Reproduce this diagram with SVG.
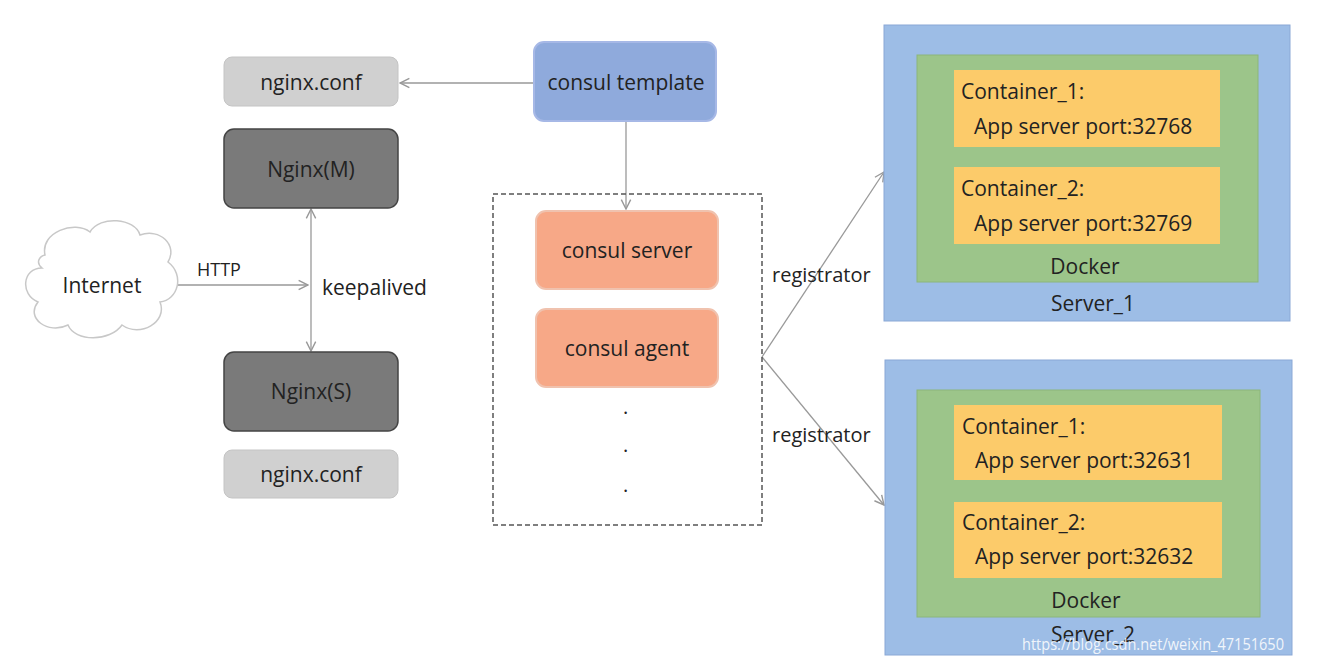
<svg xmlns="http://www.w3.org/2000/svg" width="1319" height="663" viewBox="0 0 1319 663">
<style>
text{font-family:"Open Sans","DejaVu Sans",sans-serif;fill:#222}
.t{font-size:21px;text-anchor:middle}
.conf{fill:#d0d0d0;stroke:#c4c4c4}
.ng{fill:#7a7a7a;stroke:#444;stroke-width:1.5}
.or{fill:#f7a887;stroke:#f0c2ae;stroke-width:2}
.srv{fill:#9dbde6;stroke:#8aa8d6}
.dk{fill:#9cc58a;stroke:#8cb67a}
.ct{fill:#fccb6a}
.ln{stroke:#999;stroke-width:1.3;fill:none}
.c{font-size:21px}
</style>
<defs>
<marker id="a" viewBox="0 0 10 10" refX="9" refY="5" markerWidth="9" markerHeight="9" orient="auto-start-reverse"><path d="M1,1 L9,5 L1,9" fill="none" stroke="#999" stroke-width="1.2"/></marker>
</defs>
<rect width="1319" height="663" fill="#fff"/>
<g id="connectors">
<line class="ln" x1="534" y1="83" x2="400" y2="83" marker-end="url(#a)"/>
<line class="ln" x1="626" y1="121" x2="626" y2="209" marker-end="url(#a)"/>
<line class="ln" x1="177" y1="285" x2="308" y2="285" marker-end="url(#a)"/>
<line class="ln" x1="311" y1="209" x2="311" y2="351" marker-start="url(#a)" marker-end="url(#a)"/>
<line class="ln" x1="762" y1="357" x2="884" y2="172" marker-end="url(#a)"/>
<line class="ln" x1="762" y1="357" x2="884" y2="505" marker-end="url(#a)"/>
<text x="197" y="276" font-size="18">HTTP</text>
<text x="322" y="295" font-size="21">keepalived</text>
<text x="772" y="282" font-size="20">registrator</text>
<text x="772" y="442" font-size="20">registrator</text>
</g>
<g id="nginx-conf-top"><rect class="conf" x="224" y="57" width="174" height="49" rx="8"/><text class="t" x="311" y="90">nginx.conf</text></g>
<g id="nginx-m"><rect class="ng" x="224" y="129" width="174" height="79" rx="10"/><text class="t" x="311" y="177">Nginx(M)</text></g>
<g id="nginx-s"><rect class="ng" x="224" y="352" width="174" height="79" rx="10"/><text class="t" x="311" y="399">Nginx(S)</text></g>
<g id="nginx-conf-bottom"><rect class="conf" x="224" y="450" width="174" height="48" rx="8"/><text class="t" x="311" y="482">nginx.conf</text></g>
<g id="internet">
<path d="M45,255 C40,232 75,220 90,232 C100,215 135,218 140,235 C160,228 178,245 168,262 C185,275 178,300 160,302 C168,322 140,338 122,325 C110,342 75,342 68,325 C48,335 25,318 38,302 C20,295 22,268 42,268 C35,262 40,256 45,255 Z" fill="#fff" stroke="#c8c8c8" stroke-width="1.5"/>
<text class="t" x="102" y="293">Internet</text>
</g>
<g id="consul-template"><rect x="534" y="42" width="182" height="79" rx="10" fill="#8faadc" stroke="#a6b8e6" stroke-width="2"/><text class="t" x="626" y="90">consul template</text></g>
<g id="consul-cluster">
<rect x="493" y="194" width="269" height="331" fill="none" stroke="#555" stroke-width="1.5" stroke-dasharray="5,3"/>
<text x="623" y="414" font-size="20">.</text><text x="623" y="452" font-size="20">.</text><text x="623" y="492" font-size="20">.</text>
</g>
<g id="consul-server"><rect class="or" x="536" y="211" width="182" height="78" rx="10"/><text class="t" x="627" y="258">consul server</text></g>
<g id="consul-agent"><rect class="or" x="536" y="309" width="182" height="78" rx="10"/><text class="t" x="627" y="356">consul agent</text></g>
<g id="server-1">
<rect class="srv" x="884" y="25" width="406" height="296"/>
<rect class="dk" x="917" y="55" width="341" height="227"/>
<rect class="ct" x="954" y="70" width="266" height="77"/>
<rect class="ct" x="954" y="167" width="266" height="77"/>
<text class="c" x="961" y="99">Container_1:</text><text class="c" x="974" y="134">App server port:32768</text>
<text class="c" x="961" y="196">Container_2:</text><text class="c" x="974" y="231">App server port:32769</text>
<text class="t" x="1085" y="274" fill="#1f3a14">Docker</text>
<text class="t" x="1093" y="311" fill="#1f2f55">Server_1</text>
</g>
<g id="server-2">
<rect class="srv" x="885" y="360" width="407" height="295"/>
<rect class="dk" x="917" y="390" width="343" height="227"/>
<rect class="ct" x="954" y="405" width="268" height="75"/>
<rect class="ct" x="954" y="502" width="268" height="76"/>
<text class="c" x="962" y="434">Container_1:</text><text class="c" x="975" y="468">App server port:32631</text>
<text class="c" x="962" y="530">Container_2:</text><text class="c" x="975" y="564">App server port:32632</text>
<text class="t" x="1086" y="608" fill="#1f3a14">Docker</text>
<text class="t" x="1093" y="642" fill="#1f2f55">Server_2</text>
</g>
<text x="1022" y="650" font-family="Liberation Sans,sans-serif" font-size="16" textLength="262" lengthAdjust="spacingAndGlyphs" style="fill:#ffffff;opacity:0.85">https://blog.csdn.net/weixin_47151650</text>
</svg>
